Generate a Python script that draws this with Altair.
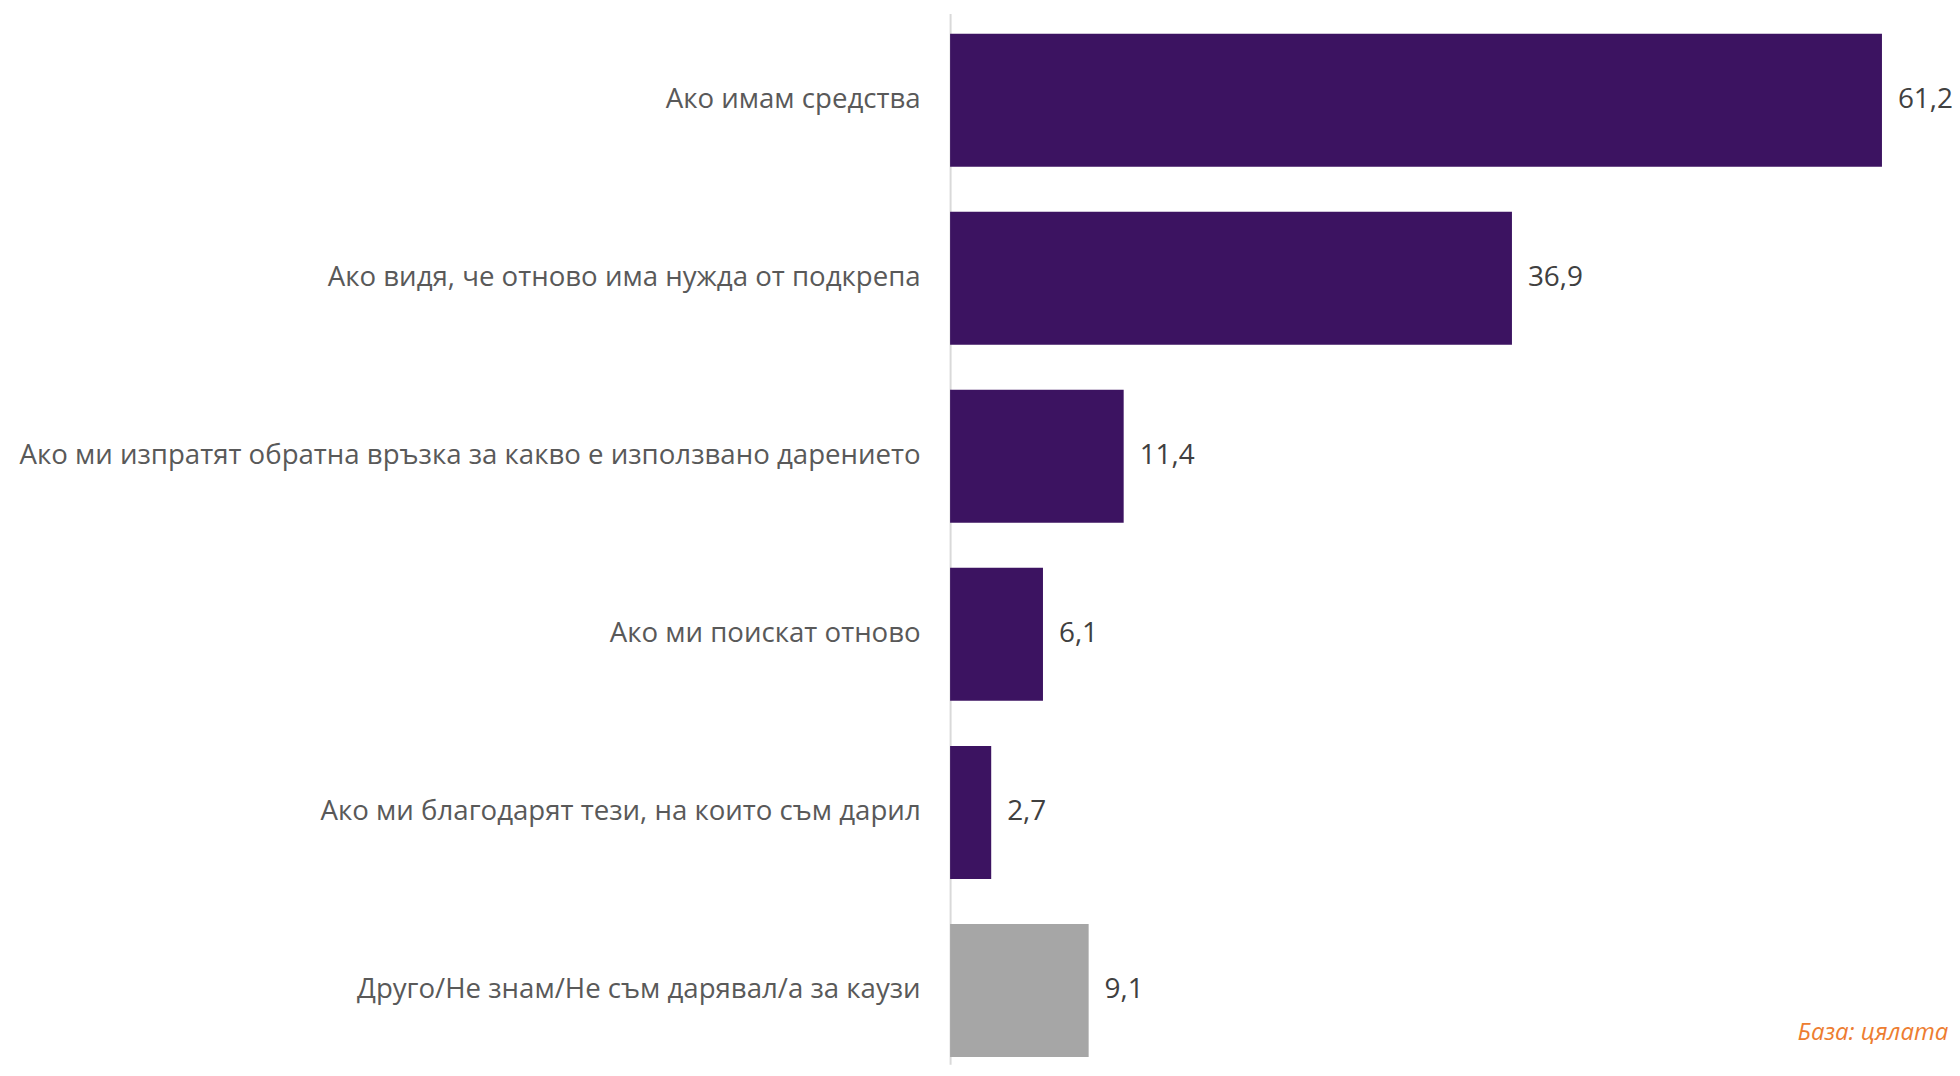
import altair as alt
import pandas as pd

categories = [
    "Ако имам средства",
    "Ако видя, че отново има нужда от подкрепа",
    "Ако ми изпратят обратна връзка за какво е използвано дарението",
    "Ако ми поискат отново",
    "Ако ми благодарят тези, на които съм дарил",
    "Друго/Не знам/Не съм дарявал/а за каузи",
]
values = [61.2, 36.9, 11.4, 6.1, 2.7, 9.1]
groups = ["main", "main", "main", "main", "main", "other"]
value_labels = ["61,2", "36,9", "11,4", "6,1", "2,7", "9,1"]
note_text = "База: цялата"

df = pd.DataFrame({"cat": categories, "val": values, "grp": groups, "lbl": value_labels})

FONT = "Open Sans"
W, H = 1005, 1054

y = alt.Y("cat:N", sort=categories, title=None,
          scale=alt.Scale(paddingInner=0.253, paddingOuter=0.077, align=0.73),
          axis=alt.Axis(ticks=False, labelPadding=30, labelFont=FONT, labelFontSize=27.7,
                        labelColor="#595959", labelLimit=1000, domainColor="#d9d9d9",
                        domainWidth=2))
x = alt.X("val:Q", title=None, scale=alt.Scale(domain=[0, 65.8], nice=False),
          axis=None)

bars = alt.Chart(df).mark_bar().encode(
    x=x, y=y,
    color=alt.Color("grp:N", scale=alt.Scale(domain=["main", "other"],
                                             range=["#3C1361", "#A6A6A6"]), legend=None),
)
texts = alt.Chart(df).mark_text(align="left", baseline="middle", dx=16, font=FONT,
                                fontSize=28, color="#404040").encode(
    x=x, y=alt.Y("cat:N", sort=categories), text="lbl:N")

note = alt.Chart(pd.DataFrame({"t": [note_text]})).mark_text(
    align="left", baseline="alphabetic", font=FONT, fontSize=24, fontStyle="italic",
    color="#ED7D31").encode(x=alt.value(850), y=alt.value(1030), text="t:N")

chart = (bars + texts + note).properties(
    width=W, height=H,
    autosize=alt.AutoSizeParams(type="none"),
    padding={"left": 945, "top": 4, "right": 0, "bottom": 0},
).configure_view(stroke=None)

chart.save("out.html", embed_options={"renderer": "svg", "actions": False})
